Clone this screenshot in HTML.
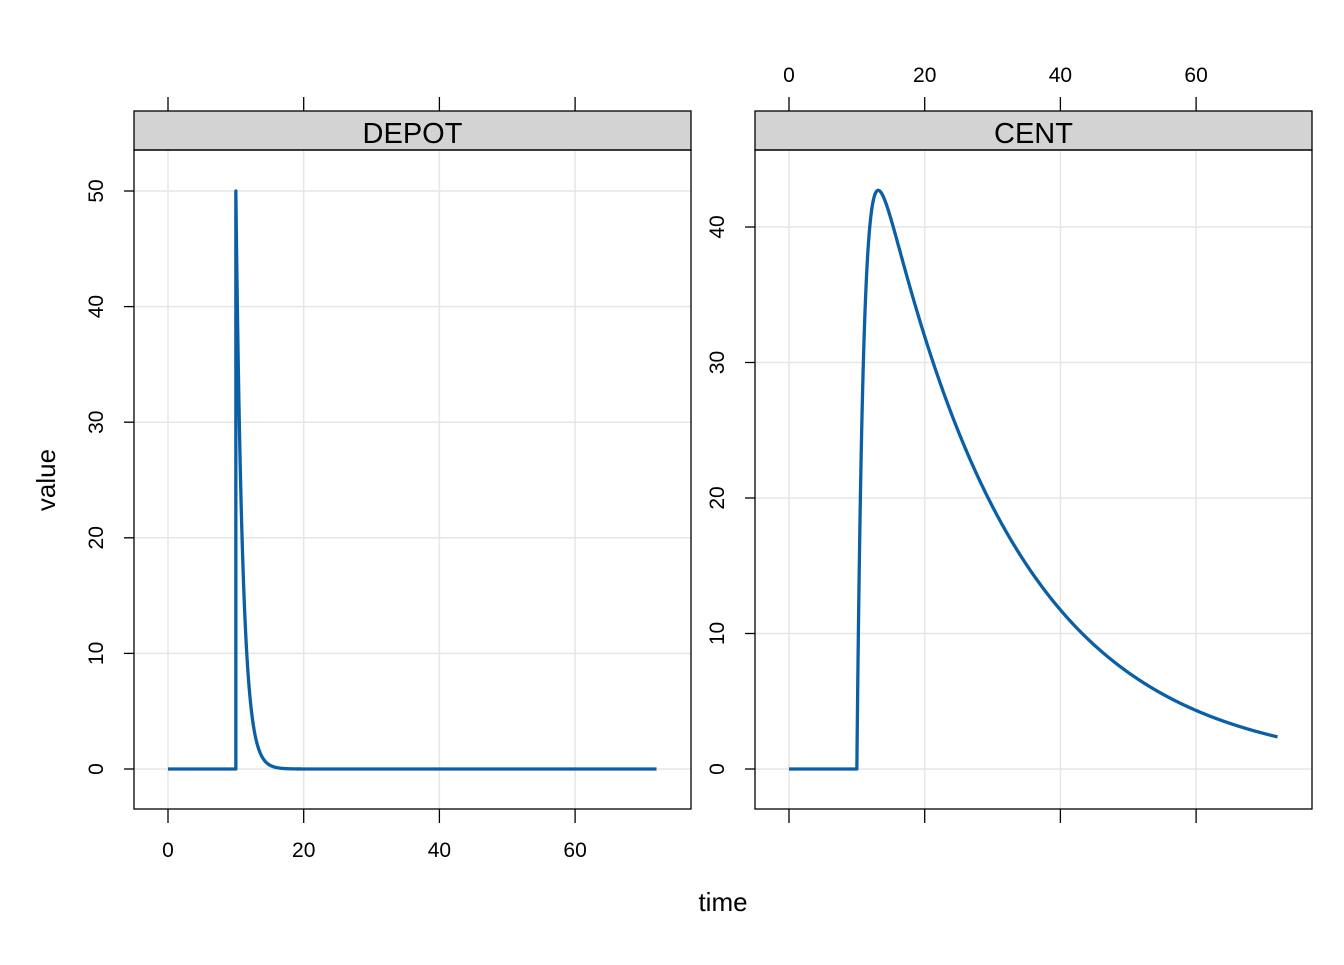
<!DOCTYPE html>
<html><head><meta charset="utf-8"><style>
html,body{margin:0;padding:0;background:#fff;}
svg text{font-family:"Liberation Sans",sans-serif;fill:#000;}
</style></head><body>
<svg id="s" width="1344" height="960" xmlns="http://www.w3.org/2000/svg"></svg>
<script>
const s=document.getElementById('s');let h='';
const xs0=[168,789],xk=6.785;
const panels=[{x0:134,x1:691,name:'DEPOT',ky:11.56,ticks:[0,10,20,30,40,50],f:t=>t<10?0:50*Math.exp(-(t-10))},
{x0:755,x1:1312,name:'CENT',ky:13.55,ticks:[0,10,20,30,40],f:t=>{if(t<10)return 0;const u=t-10;return 50/0.95*(Math.exp(-0.05*u)-Math.exp(-u));}}];
panels.forEach((p,i)=>{
 const X=t=>xs0[i]+t*xk, Y=v=>769-v*p.ky;
 [0,20,40,60].forEach(t=>h+=`<line x1="${X(t)}" y1="150" x2="${X(t)}" y2="809" stroke="#e6e6e6" stroke-width="1.5"/>`);
 p.ticks.forEach(v=>h+=`<line x1="${p.x0}" y1="${Y(v)}" x2="${p.x1}" y2="${Y(v)}" stroke="#e6e6e6" stroke-width="1.5"/>`);
 let d='';
 for(let k=0;k<=7200;k++){const t=k/100;let v=p.f(t);if(Math.abs(t-10)<1e-9&&i==0){d+=`L${X(10)},${Y(0)}L${X(10)},${Y(50)}`;continue;}d+=(k?'L':'M')+X(t).toFixed(2)+','+Y(v).toFixed(2);}
 h+=`<path d="${d}" fill="none" stroke="#0b5fa5" stroke-width="3.3" stroke-linejoin="round"/>`;
 h+=`<rect x="${p.x0}" y="111" width="${p.x1-p.x0}" height="39" fill="#d3d3d3" stroke="#000" stroke-width="1.3"/>`;
 h+=`<text x="${(p.x0+p.x1)/2}" y="143" font-size="29" text-anchor="middle">${p.name}</text>`;
 h+=`<rect x="${p.x0}" y="150" width="${p.x1-p.x0}" height="659" fill="none" stroke="#000" stroke-width="1.3"/>`;
 p.ticks.forEach(v=>{h+=`<line x1="${p.x0}" y1="${Y(v)}" x2="${p.x0-10}" y2="${Y(v)}" stroke="#000" stroke-width="1.3"/>`;
  h+=`<text transform="translate(${p.x0-31},${Y(v)}) rotate(-90)" font-size="21" text-anchor="middle">${v}</text>`;});
 [0,20,40,60].forEach(t=>{
  h+=`<line x1="${X(t)}" y1="809" x2="${X(t)}" y2="823" stroke="#000" stroke-width="1.3"/>`;
  h+=`<line x1="${X(t)}" y1="111" x2="${X(t)}" y2="97" stroke="#000" stroke-width="1.3"/>`;
  if(i==0)h+=`<text x="${X(t)}" y="857" font-size="21" text-anchor="middle">${t}</text>`;
  else h+=`<text x="${X(t)}" y="82" font-size="21" text-anchor="middle">${t}</text>`;
 });
});
h+=`<text x="723" y="911" font-size="26" text-anchor="middle">time</text>`;
h+=`<text transform="translate(55,480) rotate(-90)" font-size="26" text-anchor="middle">value</text>`;
s.innerHTML=h;
</script>
</body></html>
